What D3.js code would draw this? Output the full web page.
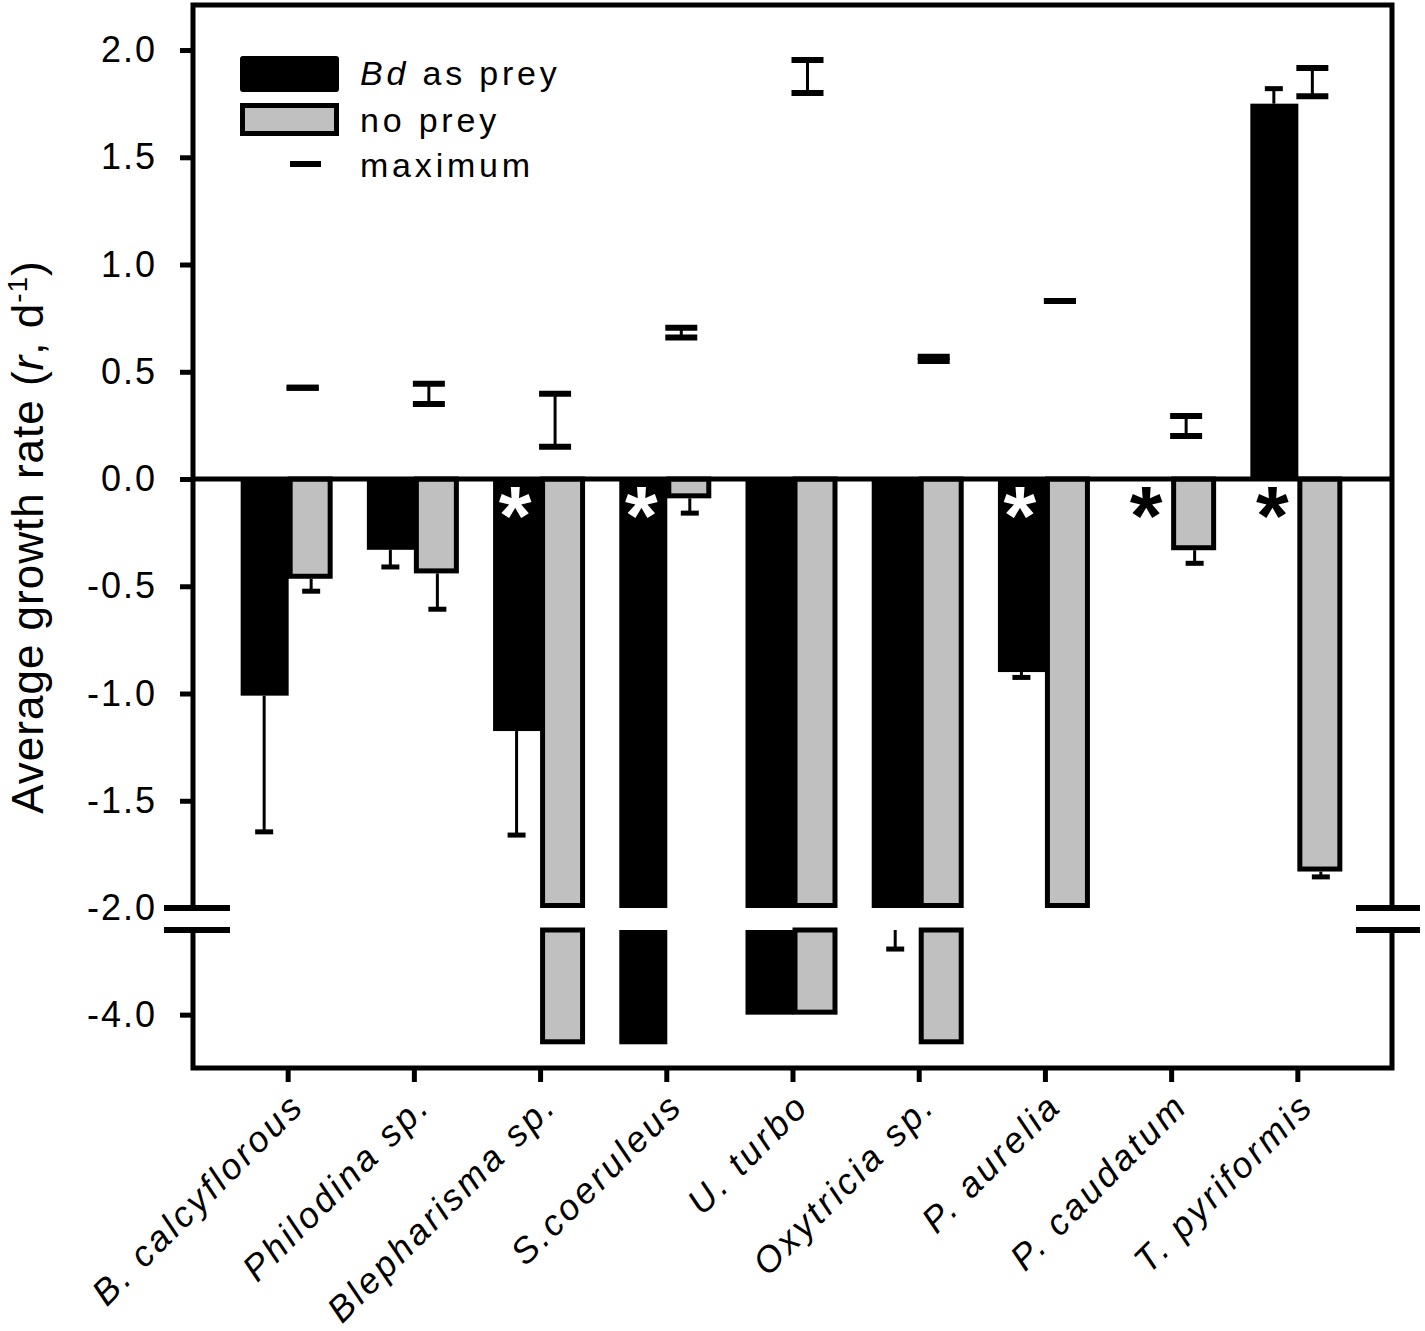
<!DOCTYPE html>
<html>
<head>
<meta charset="utf-8">
<script src="https://cdn.jsdelivr.net/npm/d3@7"></script>
<style>
  body { margin: 0; background: #fff; }
  svg { display: block; font-family: "Liberation Sans", Arial, sans-serif; }
</style>
</head>
<body>
<div id="chart"></div>
<script>
const categories = ['B. calcyflorous', 'Philodina sp.', 'Blepharisma sp.', 'S.coeruleus', 'U. turbo',
  'Oxytricia sp.', 'P. aurelia', 'P. caudatum', 'T. pyriformis']
// Bd as prey: mean and error size
const bdPrey = [-1.01, -0.33, -1.175, -4.7, -4.0, -2.0, -0.90, 0, 1.75]
const bdPreyErr = [0.635, 0.08, 0.485, 0, 0, 0.45, 0.025, 0, 0.07]
// no prey
const noPrey = [-0.465, -0.44, -4.7, -0.09, -4.0, -4.7, -2.0, -0.332, -1.83]
const noPreyErr = [0.058, 0.167, 0, 0.069, 0, 0, 0, 0.061, 0.025]
// maximum growth range
const maxLow = [0.425, 0.35, 0.15, 0.66, 1.80, 0.55, 0.83, 0.20, 1.785]
const maxHigh = [0.425, 0.444, 0.397, 0.705, 1.953, 0.57, 0.83, 0.294, 1.916]
const starred = ['Blepharisma sp.', 'S.coeruleus', 'P. aurelia', 'P. caudatum', 'T. pyriformis']
const upperTicks = [2.0, 1.5, 1.0, 0.5, 0.0, -0.5, -1.0, -1.5, -2.0]
const lowerTicks = [-4.0]

const W = 1425, H = 1331
const plot = {left: 193, right: 1392, top: 5, bottom: 1068, breakTop: 908, breakBot: 930}
const grey = '#c0c0c0'

const svg = d3.select('#chart').append('svg').attr('width', W).attr('height', H)
svg.append('rect').attr('width', W).attr('height', H).attr('fill', '#fff')

const x = d3.scaleLinear().domain([-0.75, 8.75]).range([plot.left, plot.right])
const yUp = d3.scaleLinear().domain([-2, 2.21]).range([plot.breakTop, plot.top])
const yLo = d3.scaleLinear().domain([-2, -5.26]).range([plot.breakBot, plot.bottom])
const yOf = (v) => v >= -2 ? yUp(v) : yLo(v)

const bw = 47

// bar pieces, split over the axis break
const pieces = (v) => {
  if (v === 0) return []
  if (v > 0) return [[yUp(v), yUp(0)]]
  if (v >= -2) return [[yUp(0), yUp(v)]]
  return [[yUp(0), yUp(-2)], [yLo(-2), yLo(v)]]
}

const bars = svg.append('g')
categories.forEach((cat, i) => {
  const c = x(i)
  pieces(bdPrey[i]).forEach(([y1, y2]) => {
    bars.append('rect').attr('x', c - bw).attr('y', y1).attr('width', bw + 1).attr('height', y2 - y1)
      .attr('fill', '#000')
  })
  pieces(noPrey[i]).forEach(([y1, y2]) => {
    bars.append('rect').attr('x', c + 2.5).attr('y', y1).attr('width', bw - 7).attr('height', y2 - y1 - 2.5)
      .attr('fill', grey).attr('stroke', '#000').attr('stroke-width', 5)
  })
})

// error bars (outward only)
const errBar = (g, cx, v, e) => {
  if (!e) return
  const end = v < 0 ? v - e : v + e
  const y0 = (v <= -2 && end < -2) ? yLo(v) : yOf(v)
  const y1 = yOf(end)
  g.append('line').attr('x1', cx).attr('x2', cx).attr('y1', y0).attr('y2', y1)
    .attr('stroke', '#000').attr('stroke-width', 3)
  g.append('line').attr('x1', cx - 9).attr('x2', cx + 9).attr('y1', y1).attr('y2', y1)
    .attr('stroke', '#000').attr('stroke-width', 5)
}
const errs = svg.append('g')
categories.forEach((cat, i) => {
  errBar(errs, x(i) - bw / 2, bdPrey[i], bdPreyErr[i])
  errBar(errs, x(i) + bw / 2, noPrey[i], noPreyErr[i])
})

// maximum markers
const maxG = svg.append('g')
categories.forEach((cat, i) => {
  const cx = x(i) + 15, lo = yUp(maxLow[i]), hi = yUp(maxHigh[i])
  if (maxLow[i] !== maxHigh[i]) {
    maxG.append('line').attr('x1', cx).attr('x2', cx).attr('y1', lo).attr('y2', hi)
      .attr('stroke', '#000').attr('stroke-width', 3)
  }
  ;[lo, hi].forEach((yy) => {
    maxG.append('line').attr('x1', cx - 16).attr('x2', cx + 16).attr('y1', yy).attr('y2', yy)
      .attr('stroke', '#000').attr('stroke-width', 6)
  })
})

// zero line
svg.append('line').attr('x1', plot.left).attr('x2', plot.right).attr('y1', yUp(0)).attr('y2', yUp(0))
  .attr('stroke', '#000').attr('stroke-width', 5)

// asterisks
svg.append('g').selectAll('text')
  .data(categories.map((c, i) => ({c, i})).filter((d) => starred.includes(d.c)))
  .join('text')
    .attr('x', (d) => x(d.i) - 25)
    .attr('y', yUp(0) + 66)
    .attr('text-anchor', 'middle')
    .attr('font-size', 84)
    .attr('font-weight', 'bold')
    .attr('fill', (d) => bdPrey[d.i] < 0 ? '#fff' : '#000')
    .text('*')

// frame
const frame = svg.append('g').attr('stroke', '#000').attr('stroke-width', 5).attr('fill', 'none')
frame.append('path').attr('d', `M${plot.left},${plot.breakTop}V${plot.top}H${plot.right}V${plot.breakTop}`)
frame.append('path').attr('d', `M${plot.left},${plot.breakBot}V${plot.bottom}H${plot.right}V${plot.breakBot}`)
;[plot.breakTop, plot.breakBot].forEach((yy) => {
  frame.append('line').attr('x1', plot.left - 29).attr('x2', plot.left + 37).attr('y1', yy).attr('y2', yy).attr('stroke-width', 6)
  frame.append('line').attr('x1', plot.right - 36).attr('x2', plot.right + 28).attr('y1', yy).attr('y2', yy).attr('stroke-width', 6)
})

// y axes
const styleAxis = (g) => {
  g.select('.domain').remove()
  g.selectAll('.tick line').attr('stroke', '#000').attr('stroke-width', 5)
  g.selectAll('.tick text').attr('font-size', 36).attr('letter-spacing', 2).attr('fill', '#000')
    .attr('font-family', '"Liberation Sans", Arial, sans-serif')
}
svg.append('g').attr('transform', `translate(${plot.left},0)`)
  .call(d3.axisLeft(yUp).tickValues(upperTicks).tickSize(13).tickPadding(23).tickFormat((d) => d.toFixed(1)))
  .call(styleAxis)
svg.append('g').attr('transform', `translate(${plot.left},0)`)
  .call(d3.axisLeft(yLo).tickValues(lowerTicks).tickSize(13).tickPadding(23).tickFormat((d) => d.toFixed(1)))
  .call(styleAxis)

// x axis
const xAxis = svg.append('g').attr('transform', `translate(0,${plot.bottom})`)
  .call(d3.axisBottom(x).tickValues(d3.range(categories.length)).tickSize(14).tickFormat((i) => categories[i]))
  .call(styleAxis)
xAxis.selectAll('.tick text')
  .attr('x', 0).attr('y', 0).attr('dy', 0)
  .attr('text-anchor', 'end')
  .attr('font-style', 'italic')
  .attr('letter-spacing', 3.2)
  .attr('transform', 'translate(18,40) rotate(-45)')

// y title
const title = svg.append('text')
  .attr('transform', 'translate(43,537) rotate(-90)')
  .attr('text-anchor', 'middle')
  .attr('font-size', 44)
  .attr('letter-spacing', 1)
title.append('tspan').text('Average growth rate (')
title.append('tspan').attr('font-style', 'italic').text('r')
title.append('tspan').text(', d')
title.append('tspan').attr('font-size', 28).attr('dy', -16).text('-1')
title.append('tspan').attr('dy', 16).text(')')

// legend
const legend = svg.append('g')
legend.append('rect').attr('x', 240).attr('y', 56).attr('width', 99).attr('height', 36).attr('rx', 3).attr('fill', '#000')
legend.append('rect').attr('x', 242.5).attr('y', 105.5).attr('width', 94).attr('height', 28)
  .attr('fill', grey).attr('stroke', '#000').attr('stroke-width', 5)
legend.append('line').attr('x1', 290).attr('x2', 321).attr('y1', 164).attr('y2', 164)
  .attr('stroke', '#000').attr('stroke-width', 6)
const lt = legend.append('g').attr('font-size', 34).attr('letter-spacing', 3.8)
const t1 = lt.append('text').attr('x', 360).attr('y', 85)
t1.append('tspan').attr('font-style', 'italic').text('Bd')
t1.append('tspan').text(' as prey')
lt.append('text').attr('x', 360).attr('y', 132).text('no prey')
lt.append('text').attr('x', 360).attr('y', 177).text('maximum')
</script>
</body>
</html>
